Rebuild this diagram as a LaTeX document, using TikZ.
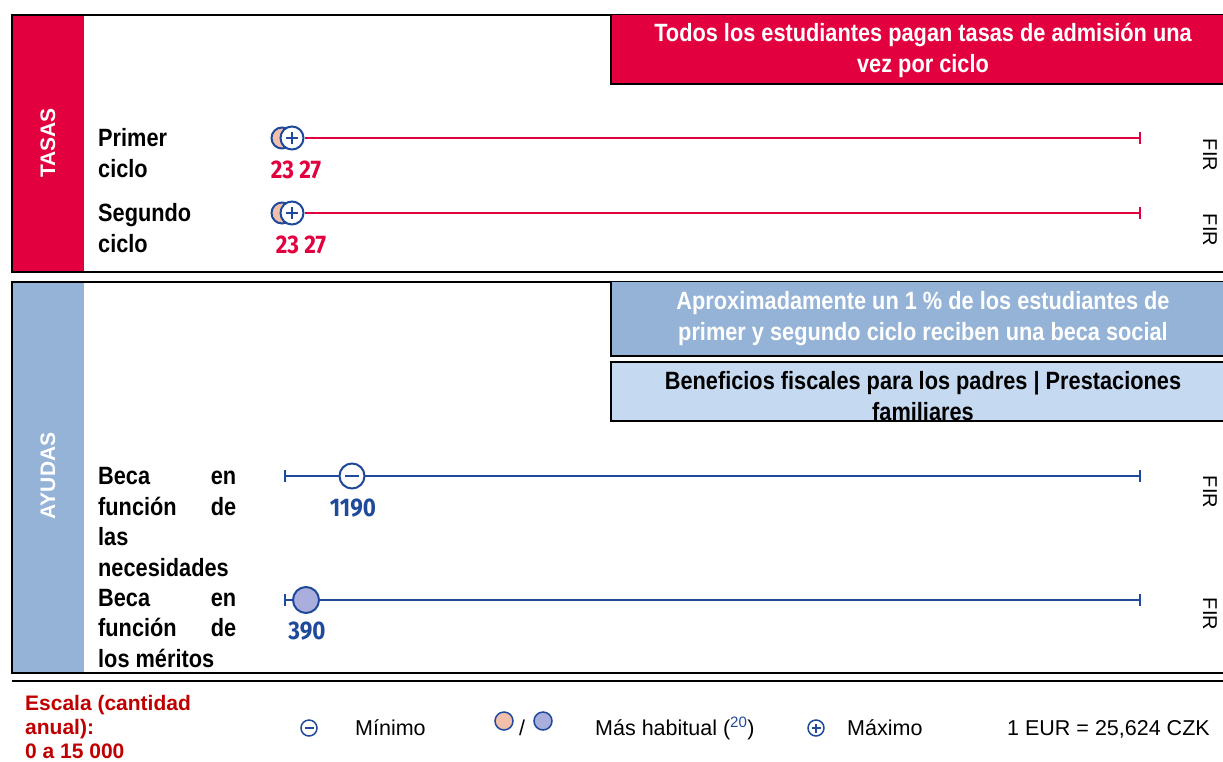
\documentclass[tikz,border=0pt]{standalone}
\usepackage{fontspec}
\setmainfont{Liberation Sans}
\newfontfamily\narrowfont[FakeStretch=0.87]{Liberation Sans}
\newfontfamily\numfont[FakeStretch=0.88]{Fira Sans}
\definecolor{tred}{RGB}{226,0,63}
\definecolor{ablue}{RGB}{149,179,215}
\definecolor{lblue}{RGB}{197,217,241}
\definecolor{dblue}{RGB}{31,73,155}
\definecolor{peach}{RGB}{242,192,170}
\definecolor{lav}{RGB}{170,174,220}
\definecolor{dred}{RGB}{192,0,0}
\tikzset{
  lbl/.style={font=\narrowfont\bfseries\fontsize{25}{30.5}\selectfont, anchor=base west, inner sep=0, align=left},
  num/.style={font=\numfont\bfseries\fontsize{25.5}{30}\selectfont, inner sep=0},
  boxtxt/.style={font=\narrowfont\bfseries\fontsize{25}{31}\selectfont, align=center, inner sep=0},
  side/.style={font=\bfseries\fontsize{21}{24}\selectfont, text=white, rotate=90, inner sep=0},
  fir/.style={font=\fontsize{20}{24}\selectfont, rotate=-90, inner sep=0},
  leg/.style={font=\fontsize{21.5}{24}\selectfont, anchor=base west, inner sep=0},
  frame/.style={draw=black, line width=2.7pt},
  redline/.style={draw=tred, line width=2.4pt},
  blueline/.style={draw=dblue, line width=2.4pt},
  mk/.style={circle, draw=dblue, line width=2pt, inner sep=0, minimum size=#1},
  mk/.default=22pt
}
\begin{document}
\begin{tikzpicture}[x=1pt,y=-1pt]
\useasboundingbox (0,0) rectangle (1223,761);
\clip (0,0) rectangle (1223,761);
% ---------- TASAS panel
\fill[tred] (13,16) rectangle (84,271);
\draw[frame] (12,15) rectangle (1240,272);
\node[side] (tasas) at (48,143) {TASAS};
\fill[tred] (611,15) rectangle (1240,84);
\draw[frame] (1240,84) -- (611,84) -- (611,15);
\node[boxtxt, text=white] (tbox) at (923,50) {Todos los estudiantes pagan tasas de admisión una\\vez por ciclo};
% Primer ciclo
\node[lbl] (l1) at (98,177) {Primer\\ciclo};
\coordinate (e1) at (1140,138);
\node[mk=21pt, fill=peach] (p1) at (282,138) {};
\node[mk=23pt, fill=white] (x1) at (292,138) {};
\draw[dblue, line width=2pt] ([xshift=-6pt]x1.center) -- ([xshift=6pt]x1.center);
\draw[dblue, line width=2pt] ([yshift=-6pt]x1.center) -- ([yshift=6pt]x1.center);
\draw[redline] (x1.east) -- (e1);
\draw[redline] ([yshift=-6pt]e1) -- ([yshift=6pt]e1);
\node[num, text=tred] (n1) at (296,170) {23 27};
\node[fir] (f1) at (1210,155) {FIR};
% Segundo ciclo
\node[lbl] (l2) at (98,252) {Segundo\\ciclo};
\coordinate (e2) at (1140,213);
\node[mk=21pt, fill=peach] (p2) at (282,213) {};
\node[mk=23pt, fill=white] (x2) at (292,213) {};
\draw[dblue, line width=2pt] ([xshift=-6pt]x2.center) -- ([xshift=6pt]x2.center);
\draw[dblue, line width=2pt] ([yshift=-6pt]x2.center) -- ([yshift=6pt]x2.center);
\draw[redline] (x2.east) -- (e2);
\draw[redline] ([yshift=-6pt]e2) -- ([yshift=6pt]e2);
\node[num, text=tred] (n2) at (301,245) {23 27};
\node[fir] (f2) at (1210,230) {FIR};
% ---------- AYUDAS panel
\fill[ablue] (13,283) rectangle (84,672);
\draw[frame] (12,282) rectangle (1240,673);
\node[side] (ayudas) at (48,476) {AYUDAS};
\fill[ablue] (611,282) rectangle (1240,356);
\draw[frame] (1240,356) -- (611,356) -- (611,282);
\node[boxtxt, text=white] (abox) at (923,319) {Aproximadamente un 1 \% de los estudiantes de\\primer y segundo ciclo reciben una beca social};
\fill[lblue] (611,362) rectangle (1240,421);
\node[boxtxt, text=black] (bbox) at (923,396) {Beneficios fiscales para los padres | Prestaciones\\familiares};
\draw[frame] (1240,362) -- (611,362) -- (611,421) -- (1240,421);
% Beca necesidades
\node[lbl] (l3) at (98,576) {\hbox to 138pt{Beca\hfill en}\\\hbox to 138pt{función\hfill de}\\las\\necesidades};
\coordinate (s3) at (285,476);
\coordinate (e3) at (1140,476);
\draw[blueline] (s3) -- (e3);
\draw[blueline] ([yshift=-6pt]s3) -- ([yshift=6pt]s3);
\draw[blueline] ([yshift=-6pt]e3) -- ([yshift=6pt]e3);
\node[mk=25pt, fill=white] (m3) at (352,476) {};
\draw[dblue, line width=2pt] ([xshift=-7pt]m3.center) -- ([xshift=7pt]m3.center);
\node[num, text=dblue] (n3) at (353,508) {1190};
\node[fir] (f3) at (1210,492) {FIR};
% Beca meritos
\node[lbl] (l4) at (98,667) {\hbox to 138pt{Beca\hfill en}\\\hbox to 138pt{función\hfill de}\\los méritos};
\coordinate (s4) at (285,600);
\coordinate (e4) at (1140,600);
\draw[blueline] (s4) -- (e4);
\draw[blueline] ([yshift=-6pt]s4) -- ([yshift=6pt]s4);
\draw[blueline] ([yshift=-6pt]e4) -- ([yshift=6pt]e4);
\node[mk=26pt, fill=lav] (c4) at (306,600) {};
\node[num, text=dblue] (n4) at (307,631) {390};
\node[fir] (f4) at (1210,614) {FIR};
% ---------- legend
\draw[black, line width=2.7pt] (12,681) -- (1240,681);
\node[font=\bfseries\fontsize{21}{24}\selectfont, text=dred, anchor=base west, inner sep=0, align=left] (esc) at (25,758.5) {Escala (cantidad\\anual):\\0 a 15 000};
\node[mk=16pt, line width=1.5pt, fill=white] (lmin) at (309,728) {};
\draw[dblue, line width=1.5pt] ([xshift=-4.5pt]lmin.center) -- ([xshift=4.5pt]lmin.center);
\node[leg] (tmin) at (355,735) {Mínimo};
\node[mk=18pt, line width=1.5pt, fill=peach] (lp) at (504,721) {};
\node[leg] (sl) at (519,735) {/};
\node[mk=18pt, line width=1.5pt, fill=lav] (ll) at (543,721) {};
\node[leg] (thab) at (595,735) {Más habitual (\textsuperscript{\textcolor{dblue}{20}})};
\node[mk=16pt, line width=1.5pt, fill=white] (lmax) at (816,728) {};
\draw[dblue, line width=1.5pt] ([xshift=-4.5pt]lmax.center) -- ([xshift=4.5pt]lmax.center);
\draw[dblue, line width=1.5pt] ([yshift=-4.5pt]lmax.center) -- ([yshift=4.5pt]lmax.center);
\node[leg] (tmax) at (847,735) {Máximo};
\node[leg] (teur) at (1007,735) {1 EUR = 25,624 CZK};
\end{tikzpicture}
\end{document}
